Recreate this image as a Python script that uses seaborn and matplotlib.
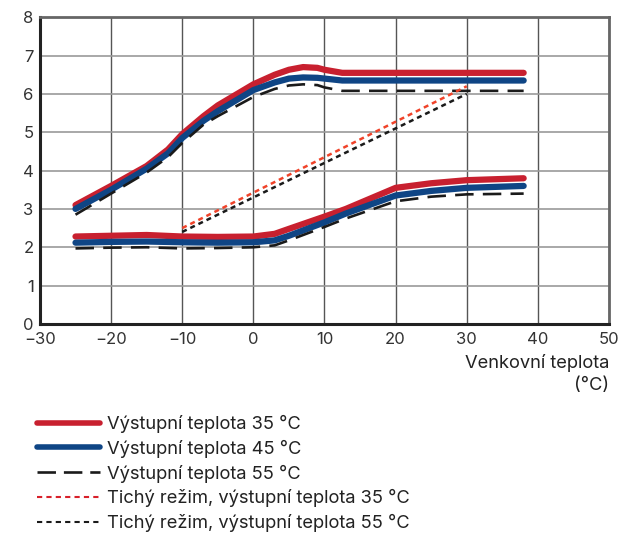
import numpy as np
import pandas as pd
import matplotlib.pyplot as plt
import seaborn as sns

# outdoor temperature points and curves
x_main = [-25, -20, -15, -12, -10, -7, -5, 0, 3, 5, 7, 9, 10, 12.5, 20, 30, 38]
y35_hi = [3.1, 3.6, 4.12, 4.55, 4.95, 5.42, 5.7, 6.25, 6.5, 6.63, 6.7, 6.68, 6.63, 6.55, 6.55, 6.55, 6.55]
y45_hi = [3.0, 3.5, 4.05, 4.45, 4.85, 5.3, 5.55, 6.1, 6.3, 6.4, 6.43, 6.42, 6.4, 6.35, 6.35, 6.35, 6.35]
y55_hi = [2.85, 3.4, 3.95, 4.35, 4.72, 5.2, 5.42, 5.92, 6.13, 6.22, 6.25, 6.23, 6.17, 6.08, 6.08, 6.08, 6.08]

x_low = [-25, -20, -15, -10, -5, 0, 3, 5, 10, 13, 20, 25, 30, 38]
y35_lo = [2.28, 2.3, 2.32, 2.28, 2.27, 2.28, 2.35, 2.48, 2.8, 3.0, 3.55, 3.67, 3.75, 3.8]
y45_lo = [2.12, 2.14, 2.15, 2.13, 2.12, 2.13, 2.18, 2.3, 2.65, 2.88, 3.35, 3.47, 3.55, 3.6]
y55_lo = [1.97, 1.99, 2.0, 1.97, 1.98, 2.0, 2.05, 2.18, 2.53, 2.75, 3.2, 3.32, 3.38, 3.4]

x_quiet = [-10, 30]
y_quiet35 = [2.5, 6.2]
y_quiet55 = [2.4, 6.0]

labels = ["Výstupní teplota 35 °C", "Výstupní teplota 45 °C", "Výstupní teplota 55 °C",
          "Tichý režim, výstupní teplota 35 °C", "Tichý režim, výstupní teplota 55 °C"]

sns.set_style("white")
plt.rcParams['font.family'] = ['Inter', 'DejaVu Sans']

fig = plt.figure(figsize=(6.24, 5.39), dpi=100)
ax = fig.add_axes([0.064, 0.399, 0.912, 0.569])

red = '#c8202f'
blue = '#0f4585'
kw = dict(solid_capstyle='round', dash_capstyle='butt', legend=False)

for lo, hi, col, lw, ls in [
        (y35_lo, y35_hi, red, 4.5, '-'),
        (y45_lo, y45_hi, blue, 4.5, '-'),
        (y55_lo, y55_hi, '#1a1a1a', 1.9, (0, (7, 3.5)))]:
    sns.lineplot(x=x_main, y=hi, ax=ax, color=col, lw=lw, linestyle=ls, **kw)
    sns.lineplot(x=x_low, y=lo, ax=ax, color=col, lw=lw, linestyle=ls, **kw)

sns.lineplot(x=x_quiet, y=y_quiet35, ax=ax, color='#f0432a', lw=1.8, linestyle=(0, (2, 1.6)), **kw)
sns.lineplot(x=x_quiet, y=y_quiet55, ax=ax, color='#1a1a1a', lw=1.8, linestyle=(0, (2, 1.6)), **kw)

ax.set_xlim(-30, 50)
ax.set_ylim(0, 8)
ax.set_xticks(range(-30, 51, 10))
ax.set_yticks(range(0, 9))
ax.set_xticklabels(['\u221230', '\u221220', '\u221210', '0', '10', '20', '30', '40', '50'])
ax.xaxis.grid(True, color='#555555', lw=1.0)
ax.yaxis.grid(True, color='#999999', lw=1.2)
ax.set_axisbelow(True)
for s in ['left', 'bottom']:
    ax.spines[s].set_color('#222222')
    ax.spines[s].set_linewidth(2.2)
for s in ['top', 'right']:
    ax.spines[s].set_color('#666666')
    ax.spines[s].set_linewidth(2.0)
ax.tick_params(axis='both', length=3, width=0.8, color='#444444', labelsize=12, labelcolor='#333333')
ax.tick_params(axis='y', pad=1.5)
ax.tick_params(axis='x', pad=2.5)

fig.text(0.976, 0.327, "Venkovní teplota", ha='right', va='center', fontsize=13.2, color='#222222')
fig.text(0.976, 0.284, "(°C)", ha='right', va='center', fontsize=13.2, color='#222222')

handles = [
    plt.Line2D([], [], color=red, lw=4, solid_capstyle='round'),
    plt.Line2D([], [], color=blue, lw=4, solid_capstyle='round'),
    plt.Line2D([], [], color='#1a1a1a', lw=1.9, linestyle=(0, (7, 3))),
    plt.Line2D([], [], color='#d8202a', lw=1.5, linestyle=(0, (2.5, 2))),
    plt.Line2D([], [], color='#1a1a1a', lw=1.5, linestyle=(0, (2.5, 2))),
]
fig.legend(handles, labels, loc='upper left', bbox_to_anchor=(0.044, 0.247), frameon=False,
           fontsize=13.2, handlelength=3.45, handletextpad=0.4, labelspacing=0.36,
           borderpad=0, labelcolor='#222222')

fig.savefig("out.png", dpi=100)
